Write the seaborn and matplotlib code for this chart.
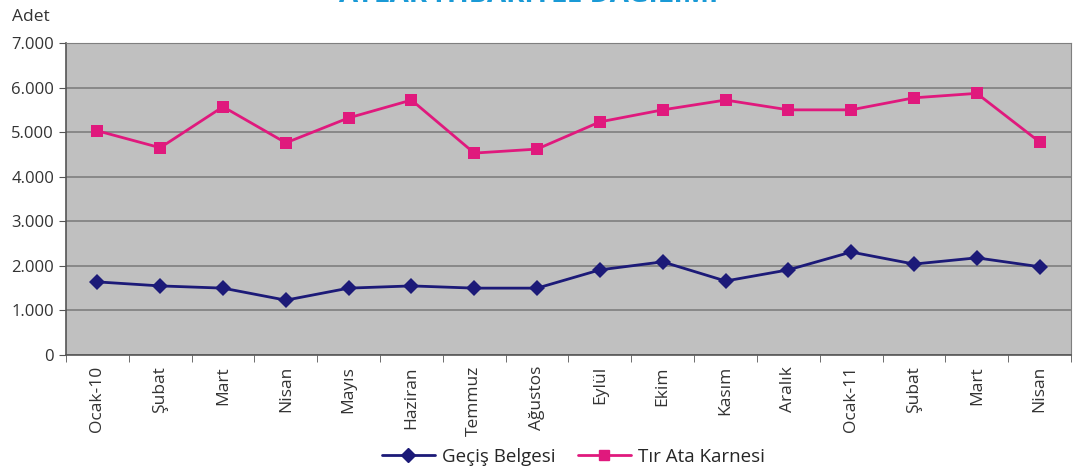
import numpy as np
import pandas as pd
import seaborn as sns
import matplotlib.pyplot as plt
from matplotlib.ticker import FuncFormatter, FixedLocator

months = ["Ocak-10", "Şubat", "Mart", "Nisan", "Mayıs", "Haziran", "Temmuz", "Ağustos",
          "Eylül", "Ekim", "Kasım", "Aralık", "Ocak-11", "Şubat", "Mart", "Nisan"]
gecis = [1640, 1550, 1500, 1230, 1500, 1550, 1500, 1500,
         1910, 2090, 1660, 1910, 2310, 2040, 2180, 1980]
tir = [5030, 4650, 5570, 4760, 5320, 5720, 4530, 4620,
       5230, 5500, 5720, 5500, 5500, 5770, 5870, 4780]
series = ["Geçiş Belgesi", "Tır Ata Karnesi"]

df = pd.DataFrame({
    "pos": list(range(len(months))) * 2,
    "val": gecis + tir,
    "seri": [series[0]] * len(months) + [series[1]] * len(months),
})

sns.set_style("white")
plt.rcParams['font.family'] = ['Open Sans', 'DejaVu Sans']

fig = plt.figure(figsize=(10.78, 4.72), dpi=100)
ax = fig.add_axes([0.0612, 0.2479, 0.9323, 0.661])
ax.set_facecolor("#c0c0c0")

sns.lineplot(data=df, x="pos", y="val", hue="seri", style="seri",
             palette=["#1c1a78", "#e0197d"], markers=["D", "s"], dashes=False,
             markersize=8, linewidth=2, markeredgewidth=0, ax=ax, legend=False)

ax.set_xlim(-0.5, len(months) - 0.5)
ax.set_ylim(0, 7000)
ax.set_yticks(np.arange(0, 7001, 1000))
ax.yaxis.set_major_formatter(FuncFormatter(lambda v, p: "0" if v == 0 else f"{int(v):,}".replace(",", ".")))
ax.grid(axis="y", color="#7f7f7f", linewidth=1.2)
ax.set_axisbelow(True)

ax.set_xticks(range(len(months)))
ax.set_xticklabels(months, rotation=90, fontsize=12.5, color="#333333")
ax.tick_params(axis="x", length=0, pad=8)
ax.xaxis.set_minor_locator(FixedLocator(np.arange(-0.5, len(months), 1)))
ax.tick_params(axis="x", which="minor", length=5, direction="out", color="#555555", bottom=True)
ax.tick_params(axis="y", length=5, direction="out", left=True, color="#555555", labelsize=12, labelcolor="#333333")

ax.set_xlabel("")
ax.set_ylabel("")
for side in ["left", "bottom"]:
    ax.spines[side].set_color("#555555")
    ax.spines[side].set_linewidth(1.2)
ax.spines["top"].set_color("#7f7f7f")
ax.spines["right"].set_color("#7f7f7f")

fig.text(0.011, 0.955, "Adet", fontsize=12.5, color="#333333")
fig.text(0.49, 1.012, "AYLAR İTİBARİYLE DAĞILIMI", fontsize=20, fontweight="bold",
         color="#1a9ad6", ha="center", va="center")

handles = [plt.Line2D([], [], color="#1c1a78", marker="D", markersize=7, linewidth=2),
           plt.Line2D([], [], color="#e0197d", marker="s", markersize=7, linewidth=2)]
fig.legend(handles, series, loc="center", bbox_to_anchor=(0.532, 0.032), ncol=2,
           frameon=False, fontsize=13.5, handlelength=2.8, columnspacing=1.2, handletextpad=0.4)

fig.savefig("out.png", dpi=100)
